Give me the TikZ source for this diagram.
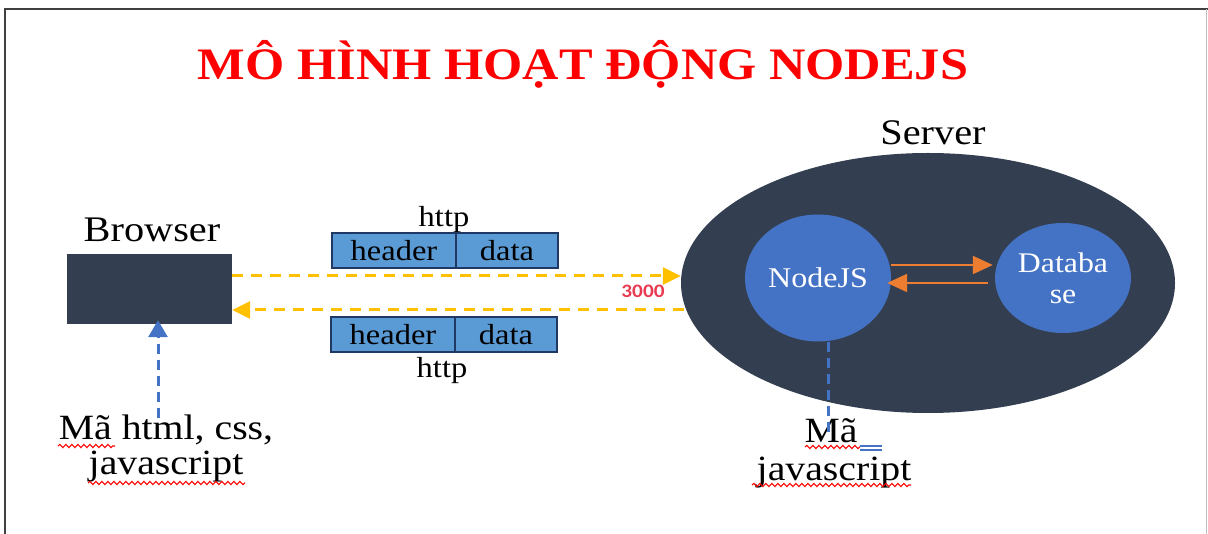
\documentclass[tikz,border=0pt]{standalone}
\usepackage{fontspec}
\usepackage{graphicx}
\setmainfont{Liberation Serif}
\newfontfamily\numfont{Carlito}
\usetikzlibrary{shapes.geometric,arrows.meta,decorations.pathmorphing}
\definecolor{navy}{HTML}{333F50}
\definecolor{blueA}{HTML}{4472C4}
\definecolor{pktblue}{HTML}{5B9BD5}
\definecolor{pktline}{HTML}{1F3864}
\definecolor{gold}{HTML}{FFC000}
\definecolor{orangeA}{HTML}{ED7D31}
\definecolor{portred}{HTML}{E83A50}
% slightly widened lettering
\newcommand{\wide}[1]{\scalebox{1.12}[1]{#1}}
\newcommand{\fsz}[1]{\fontsize{#1}{1.1\dimexpr #1pt\relax}\selectfont}

\begin{document}
\begin{tikzpicture}[x=1pt,y=-1pt,
  pkt/.style={rectangle, draw=pktline, line width=1.2pt, fill=pktblue,
              minimum height=35pt, inner sep=0pt, font=\fontsize{29}{31}\selectfont},
  lbl/.style={anchor=base, inner sep=0pt},
  ydash/.style={draw=gold, line width=3pt, dash pattern=on 11pt off 8pt,
                -{Triangle[length=18pt,width=17pt]}},
  oarrow/.style={draw=orangeA, line width=2.2pt, -{Triangle[length=20pt,width=18pt]}},
  bdash/.style={draw=blueA, line width=3pt, dash pattern=on 10pt off 6pt},
  squig/.style={draw=red, line width=1.1pt,
                decorate, decoration={snake, amplitude=1.6pt, segment length=6pt}}]
\useasboundingbox (0,0) rectangle (1208,534);

% page frame
\draw[line width=1.5pt, black!75] (5,540) -- (5,9) -- (1208,9);
\draw[line width=1pt, black!25] (1206.5,9) -- (1206.5,540);

% title
\node[lbl, text=red, font=\bfseries\fontsize{45}{50}\selectfont] (title) at (583,80)
  {\wide{MÔ HÌNH HOẠT ĐỘNG NODEJS}};

% browser
\node[rectangle, fill=navy, minimum width=165pt, minimum height=70pt, inner sep=0pt]
  (browser) at (149.5,289) {};
\node[lbl, font=\fsz{36}] (browserlbl) at (152,242) {\wide{Browser}};

% server
\node[ellipse, fill=navy, minimum width=494pt, minimum height=260pt, inner sep=0pt]
  (server) at (928,283) {};
\node[lbl, font=\fsz{36}] (serverlbl) at (933,145) {\wide{Server}};
\node[ellipse, fill=blueA, text=white, minimum width=146pt, minimum height=127pt,
      inner sep=0pt, font=\fontsize{28.6}{31}\selectfont] (nodejs) at (818,278) {\wide{NodeJS}};
\node[ellipse, fill=blueA, text=white, minimum width=136pt, minimum height=110pt,
      inner sep=0pt, align=center, font=\fontsize{28.4}{31}\selectfont]
  (db) at (1063,278) {\wide{Databa}\\\wide{se}};

% request packet
\node[lbl, font=\fsz{29}] (http1) at (444,227) {\wide{http}};
\node[pkt, minimum width=124pt] (h1) at (394,250.5) {\wide{header}};
\node[pkt, minimum width=102pt] (d1) at (507,250.5) {\wide{data}};

% response packet
\node[pkt, minimum width=124pt] (h2) at (393,334.5) {\wide{header}};
\node[pkt, minimum width=102pt] (d2) at (506,334.5) {\wide{data}};
\node[lbl, font=\fsz{29}] (http2) at (442,378) {\wide{http}};

% port
\node[lbl, text=portred, font=\numfont\bfseries\fontsize{19}{21}\selectfont]
  (port) at (643,298) {\wide{3000}};

% http traffic
\draw[ydash] ([yshift=13pt]browser.east) -- ([yshift=7pt]server.west);
\draw[ydash] ([xshift=3pt,yshift=-27pt]server.west) -- ([yshift=-21pt]browser.east);

% NodeJS <-> database
\draw[oarrow] ([yshift=13pt]nodejs.east) -- ([xshift=-2pt,yshift=13pt]db.west);
\draw[oarrow] ([xshift=-7pt,yshift=-5pt]db.west) -- ([xshift=-4pt,yshift=-5pt]nodejs.east);

% client-side code
\node[lbl, font=\fsz{35.5}] (codeL1) at (166,440) {\wide{Mã html, css,}};
\node[lbl, font=\fsz{35.5}] (codeL2) at (166,475) {\wide{javascript}};
\coordinate (codeL) at (158,418);
\draw[bdash, -{Triangle[length=17pt,width=19pt]}] (codeL) -- ([xshift=8.5pt,yshift=4pt]browser.south);

% server-side code
\node[lbl, font=\fsz{35.5}] (codeR1) at (831,443) {\wide{Mã}};
\node[lbl, font=\fsz{35.5}] (codeR2) at (834,480) {\wide{javascript}};
\coordinate (codeR) at (828,437);
\draw[bdash] ([xshift=10pt]nodejs.south) -- (codeR);

% proofing marks
\draw[squig] (58,446) -- (115,446);
\draw[squig] (88,483) -- (245,483);
\draw[squig] (805,447) -- (860,447);
\draw[squig] (752,485) -- (911,485);
\draw[blueA, line width=1.4pt] (860,446) -- (882,446) (860,450) -- (882,450);
\end{tikzpicture}
\end{document}
